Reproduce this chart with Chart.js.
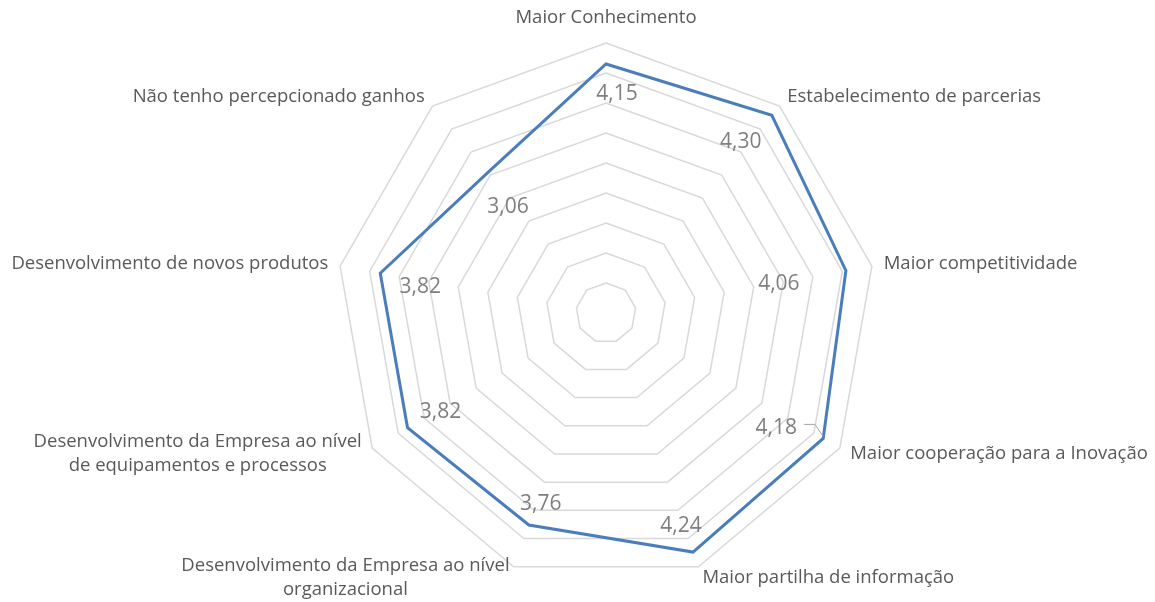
<!DOCTYPE html>
<html>
<head>
<meta charset="utf-8">
<script src="https://cdn.jsdelivr.net/npm/chart.js@4"></script>
<style>
  body { margin: 0; background: #fff; }
  canvas { display: block; }
</style>
</head>
<body>
<canvas id="radarChart" width="1155" height="602"></canvas>
<script>
// categories (multi-line ones as arrays)
const categories = [
  "Maior Conhecimento",
  "Estabelecimento de parcerias",
  "Maior competitividade",
  "Maior cooperação para a Inovação",
  "Maior partilha de informação",
  ["Desenvolvimento da Empresa ao nível", "organizacional"],
  ["Desenvolvimento da Empresa ao nível", "de equipamentos e processos"],
  "Desenvolvimento de novos produtos",
  "Não tenho percepcionado ganhos"
];
const scores = [4.15, 4.30, 4.06, 4.18, 4.24, 3.76, 3.82, 3.82, 3.06];
const scaleMax = 4.5;
const scaleStep = 0.5;

// hand placed data labels (offset from the point, like in the original sheet)
const labelNudges = [[11, 30], [-31, 27], [-67, 13], [-47, -10], [-12, -26], [12, -21], [33, -16], [40, 14], [20, 35]];
const leaderIndex = 3;

const labelsPlugin = {
  id: "radarLabels",
  afterDatasetsDraw(chart) {
    const ctx = chart.ctx;
    const scale = chart.scales.r;
    ctx.save();

    // category labels around the outer ring
    ctx.font = "18.5px 'Open Sans'";
    ctx.fillStyle = "#595959";
    categories.forEach((cat, i) => {
      const lines = Array.isArray(cat) ? cat : [cat];
      const top = i === 0;
      const p = scale.getPointPosition(i, scale.drawingArea + (top ? 16 : 12));
      const maxW = Math.max(...lines.map(l => ctx.measureText(l).width));
      let cx;
      if (Math.abs(p.x - scale.xCenter) < 5) cx = p.x;
      else if (p.x > scale.xCenter) cx = p.x + maxW / 2;
      else cx = p.x - maxW / 2;
      ctx.textAlign = "center";
      if (top) {
        ctx.textBaseline = "bottom";
        ctx.fillText(lines[0], cx, p.y);
      } else {
        ctx.textBaseline = "middle";
        const lh = 24;
        const y0 = p.y - (lines.length - 1) * lh / 2;
        lines.forEach((l, k) => ctx.fillText(l, cx, y0 + k * lh));
      }
    });

    // data labels
    ctx.font = "21px 'Open Sans'";
    ctx.fillStyle = "#7f7f7f";
    ctx.textAlign = "center";
    ctx.textBaseline = "middle";
    const meta = chart.getDatasetMeta(0);
    meta.data.forEach((pt, i) => {
      const txt = scores[i].toFixed(2).replace(".", ",");
      const [dx, dy] = labelNudges[i];
      const lx = pt.x + dx, ly = pt.y + dy;
      ctx.fillText(txt, lx, ly);
      if (i === leaderIndex) {
        const right = lx + ctx.measureText(txt).width / 2;
        ctx.strokeStyle = "#a6a6a6";
        ctx.lineWidth = 1;
        ctx.beginPath();
        ctx.moveTo(right + 7, ly - 4);
        ctx.lineTo(right + 18, ly - 4);
        ctx.lineTo(pt.x, pt.y - 2);
        ctx.stroke();
      }
    });
    ctx.restore();
  }
};

new Chart(document.getElementById("radarChart"), {
  type: "radar",
  data: {
    labels: categories,
    datasets: [{
      data: scores,
      borderColor: "#4a7ebb",
      borderWidth: 3,
      pointRadius: 0,
      fill: false,
      tension: 0
    }]
  },
  options: {
    responsive: false,
    animation: false,
    layout: { padding: { left: 57, right: 0, top: 43, bottom: 19 } },
    plugins: { legend: { display: false }, tooltip: { enabled: false } },
    scales: {
      r: {
        min: 0,
        max: scaleMax,
        ticks: { display: false, stepSize: scaleStep },
        grid: { color: "#d9d9d9", lineWidth: 1.5 },
        angleLines: { display: false },
        pointLabels: { display: false }
      }
    }
  },
  plugins: [labelsPlugin]
});
</script>
</body>
</html>
